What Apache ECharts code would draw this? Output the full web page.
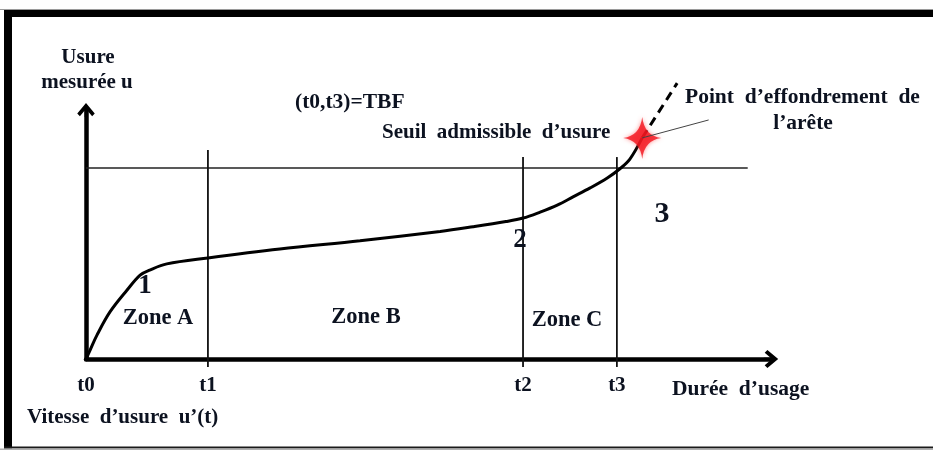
<!DOCTYPE html>
<html><head><meta charset="utf-8">
<script src="https://cdn.jsdelivr.net/npm/echarts@6/dist/echarts.min.js"></script>
<style>html,body{margin:0;padding:0;background:#fff}#c{width:933px;height:450px}</style>
</head><body><div id="c"></div>
<script>
// ---- data (arbitrary units: time 0..100, wear 0..100) ----
const tickLabels = ['t0', 't1', 't2', 't3'];
const tickValues = [0, 17.8, 63.8, 77.5];
const curveX = [0, 0.6, 1.6, 3.5, 6.0, 7.9, 9.3, 11.8, 17.8, 28.3, 40.0, 51.7, 56.5, 61.3, 63.8, 66.3, 68.8, 71.1, 73.6, 76.1, 77.9, 79.4, 81.2];
const curveY = [0, 3.6, 9.6, 18.9, 27.7, 33.7, 35.7, 38.2, 40.6, 44.2, 47.5, 51.2, 53.1, 55.2, 56.6, 59.0, 61.8, 65.1, 68.7, 72.7, 76.3, 80.3, 88.8];
const collapseX = [81.2, 86.3];
const collapseY = [88.8, 110.8];
const thresholdY = 76.7;
const thresholdEnd = 96.6;
const markerTops = [83.9, 81.1, 81.1];   // vertical lines at t1, t2, t3
const markerBottom = -3.2;
const starPoint = [81.2, 88.8];
const pointerEnd = [90.9, 96.0];

const INK = '#0c1220';
const FONT = '"Liberation Serif", "Times New Roman", serif';

const chart = echarts.init(document.getElementById('c'), null, {renderer: 'canvas'});

const arrowPath = 'path://M10,0 L20,12 L17,15 L11.5,8.5 L11.5,16 L8.5,16 L8.5,8.5 L3,15 L0,12 Z';

const series = [];
series.push({
  type: 'line', data: curveX.map((x, i) => [x, curveY[i]]), smooth: 0.35,
  symbol: 'none', clip: false, lineStyle: {color: '#000', width: 3}, z: 5, silent: true
});
series.push({
  type: 'line', data: collapseX.map((x, i) => [x, collapseY[i]]),
  symbol: 'none', clip: false, lineStyle: {color: '#000', width: 3, type: [9, 6]}, z: 5, silent: true
});
series.push({
  type: 'line', data: [[0, thresholdY], [thresholdEnd, thresholdY]],
  symbol: 'none', clip: false, lineStyle: {color: '#222', width: 1.6}, z: 3, silent: true
});
tickValues.slice(1).forEach((t, i) => {
  series.push({
    type: 'line', data: [[t, markerBottom], [t, markerTops[i]]],
    symbol: 'none', clip: false, lineStyle: {color: '#111', width: 1.8}, z: 3, silent: true
  });
});
series.push({
  type: 'scatter', data: [starPoint],
  symbol: 'path://M0,-21 Q2.2,-2.2 19,0 Q2.2,2.2 0,21 Q-2.2,2.2 -19,0 Q-2.2,-2.2 0,-21 Z',
  symbolSize: [38, 42], clip: false,
  itemStyle: {color: '#f2121c', shadowBlur: 4, shadowColor: 'rgba(255,60,60,0.7)'}, z: 8, silent: true
});
series.push({
  type: 'line', data: [starPoint, pointerEnd],
  symbol: 'none', clip: false, lineStyle: {color: '#444', width: 1}, z: 9, silent: true
});

function txt(text, x, y, size, align) {
  return {
    type: 'text', x: x, y: y, z: 20, silent: true,
    style: {
      text: text, fill: INK, font: 'bold ' + size + 'px ' + FONT,
      textAlign: align || 'left', align: align || 'left',
      textVerticalAlign: 'middle', verticalAlign: 'middle'
    }
  };
}

const option = {
  backgroundColor: '#fff',
  animation: false,
  grid: {left: 86, top: 110, width: 685, height: 249},
  xAxis: {
    type: 'value', min: 0, max: 100,
    splitLine: {show: false},
    axisTick: {show: false},
    axisLine: {show: true, onZero: false, symbol: ['none', arrowPath], symbolSize: [18, 18],
      lineStyle: {color: '#000', width: 4.5}},
    axisLabel: {
      show: true, customValues: tickValues, margin: 16,
      color: INK, fontFamily: FONT, fontWeight: 'bold', fontSize: 21,
      formatter: function (v) {
        let best = 0;
        tickValues.forEach((t, i) => { if (Math.abs(t - v) < Math.abs(tickValues[best] - v)) best = i; });
        return tickLabels[best];
      }
    }
  },
  yAxis: {
    type: 'value', min: 0, max: 100,
    splitLine: {show: false},
    axisTick: {show: false},
    axisLabel: {show: false},
    axisLine: {show: true, onZero: false, symbol: ['none', arrowPath], symbolSize: [18, 14],
      lineStyle: {color: '#000', width: 4.5}}
  },
  series: series,
  graphic: [
    {type: 'rect', shape: {x: 0, y: 9, width: 933, height: 1}, style: {fill: '#9a9a9a'}, silent: true},
    {type: 'rect', shape: {x: 4, y: 10, width: 929, height: 7}, style: {fill: '#000'}, silent: true},
    {type: 'rect', shape: {x: 4, y: 10, width: 8, height: 438.5}, style: {fill: '#000'}, silent: true},
    {type: 'rect', shape: {x: 4, y: 446.5, width: 929, height: 2}, style: {fill: '#1a1a1a'}, silent: true},
    {type: 'rect', shape: {x: 0, y: 448.5, width: 933, height: 1.5}, style: {fill: '#b0b0b0'}, silent: true},
    txt('Usure', 88, 58, 21, 'center'),
    txt('mesurée u', 87, 83, 21, 'center'),
    txt('(t0,t3)=TBF', 295, 102, 21.5),
    txt('Seuil  admissible  d’usure', 382, 133, 21),
    txt('Point  d’effondrement  de', 685, 97, 21.5),
    txt('l’arête', 803, 123, 21.5, 'center'),
    txt('1', 145, 286, 27, 'center'),
    txt('2', 520, 240, 27, 'center'),
    txt('3', 662, 214, 30, 'center'),
    txt('Zone A', 158, 318, 22.5, 'center'),
    txt('Zone B', 366, 317, 22.5, 'center'),
    txt('Zone C', 567, 320, 22.5, 'center'),
    txt('Durée  d’usage', 672, 389, 21.5),
    txt('Vitesse  d’usure  u’(t)', 27, 418, 21)
  ]
};
chart.setOption(option);
</script>
</body></html>
